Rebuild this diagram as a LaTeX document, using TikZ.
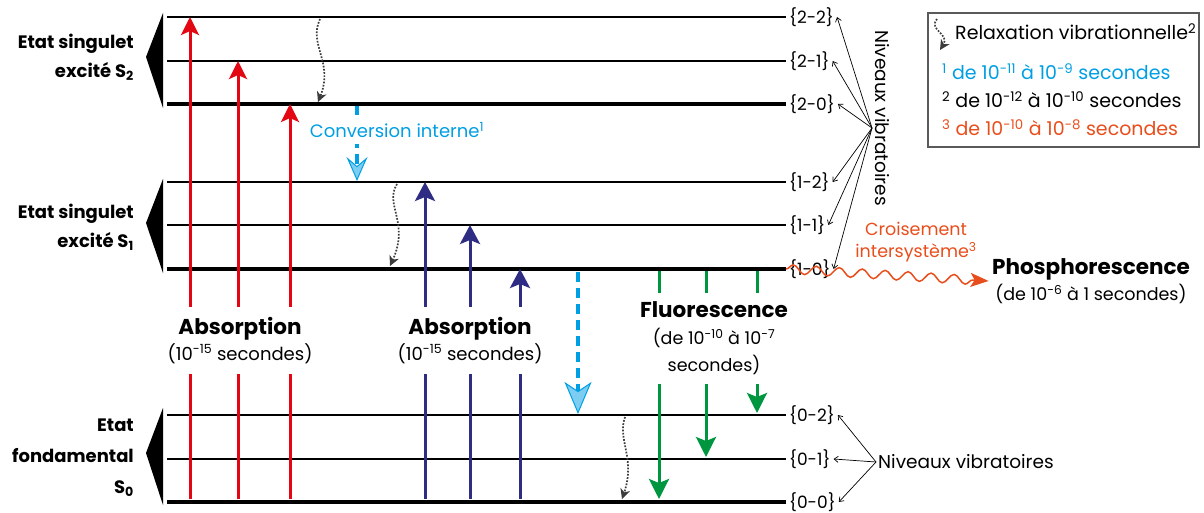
\documentclass[tikz,border=0pt]{standalone}
\usepackage{fontspec}
\setmainfont{Poppins}
\usetikzlibrary{positioning, arrows.meta, decorations.pathmorphing}

\definecolor{absred}{RGB}{227,6,19}
\definecolor{absblue}{RGB}{46,45,131}
\definecolor{fluogreen}{RGB}{0,150,64}
\definecolor{convcyan}{RGB}{0,159,227}
\definecolor{convlight}{RGB}{125,205,242}
\definecolor{iscorange}{RGB}{232,78,27}
\definecolor{relaxgray}{RGB}{60,60,60}
\definecolor{boxgray}{RGB}{90,90,90}

\makeatletter
\newcommand{\expo}[1]{\ensuremath{^{\mbox{\fontsize\sf@size\z@\selectfont #1}}}}
\newcommand{\indice}[1]{\ensuremath{_{\mbox{\fontsize\sf@size\z@\selectfont #1}}}}
\makeatother
\newcommand{\titlefont}{\fontsize{21.5}{26}\selectfont\bfseries}

\begin{document}
\begin{tikzpicture}[x=1pt, y=-1pt,
  lvlline/.style={black, line width=#1},
  lvllabel/.style={anchor=west, inner sep=3pt, font=\fontsize{17}{19}\selectfont},
  statelabel/.style={anchor=east, align=right, inner sep=0pt,
    font=\fontsize{18}{29}\selectfont\bfseries},
  gapbox/.style={fill=white, align=center, inner sep=2pt,
    font=\fontsize{18}{22}\selectfont},
  legendtext/.style={anchor=west, inner sep=0pt, font=\fontsize{19}{21}\selectfont},
  redup/.style={draw=absred, line width=3pt,
    -{Stealth[length=18pt, width=18pt, inset=4pt]}},
  blueup/.style={draw=absblue, line width=3pt,
    -{Stealth[length=19pt, width=20pt, inset=4pt]}},
  greendown/.style={draw=fluogreen, line width=3pt,
    -{Stealth[length=20pt, width=20pt, inset=4pt]}},
  cyandash/.style 2 args={draw=convcyan, line width=4pt, dash pattern=on 10pt off 6pt,
    -{Stealth[length=#1, width=#2, inset=9pt, fill=convlight, line width=1pt]}},
  relax/.style={draw=relaxgray, line width=1.7pt, dash pattern=on 1.7pt off 1.5pt,
    -{Stealth[length=10pt, width=10pt, inset=3pt]}},
  annot/.style={black, line width=0.7pt, -{Straight Barb[length=4pt, width=6pt]}},
  iscwave/.style={draw=iscorange, line width=1.5pt, decorate,
    decoration={snake, amplitude=4.5pt, segment length=23pt, post length=16pt},
    -{Stealth[length=18pt, width=14pt, inset=4pt]}},
]
\useasboundingbox (0,0) rectangle (1204,513);

%% ── Vibrational levels ───────────────────────────────────────────────────────
\foreach \n/\lbl/\y/\w in {22/2-2/17/2, 21/2-1/61/2, 20/2-0/104/4.5,
                           12/1-2/182/2, 11/1-1/225/2, 10/1-0/269/4.5,
                           02/0-2/415/2, 01/0-1/459/2, 00/0-0/502/4.5}{
  \coordinate (e\n) at (167,\y);
  \node[lvllabel] (v\n) at (786,\y) {\{\lbl\}};
  \draw[lvlline=\w pt] (e\n) -- (v\n.west);
}

%% ── Electronic states ────────────────────────────────────────────────────────
\foreach \yt/\ym/\yb in {13/57/108, 179/223/273, 408/453/505}
  \fill (163,\yt) -- (163,\yb) -- (146,\ym) -- cycle;

\node[statelabel] (st2) at (134,57.5) {Etat singulet\\excité S\indice{2}};
\node[statelabel] (st1) at (134,227.5) {Etat singulet\\excité S\indice{1}};
\node[statelabel, font=\fontsize{18}{31}\selectfont\bfseries] (st0) at (134,457.5)
  {Etat\\fondamental\\S\indice{0}};

%% ── Absorption (red: S0 -> S2, blue: S0 -> S1) ───────────────────────────────
\foreach \x/\yt [count=\i] in {190/17, 238/61, 290/104}{
  \coordinate (ra\i) at (\x,499);
  \coordinate (rt\i) at (\x,\yt);
  \draw[redup] (ra\i) -- (rt\i);
}
\foreach \x/\yt [count=\i] in {425/182, 470/225, 520/269}{
  \coordinate (ba\i) at (\x,499);
  \coordinate (bt\i) at (\x,\yt);
  \draw[blueup] (ba\i) -- (bt\i);
}

%% ── Fluorescence (S1 -> S0) ──────────────────────────────────────────────────
\foreach \x/\yt [count=\i] in {659/499, 706/457, 757/413}{
  \coordinate (ga\i) at (\x,271);
  \coordinate (gt\i) at (\x,\yt);
  \draw[greendown] (ga\i) -- (gt\i);
}

%% ── Internal conversion ──────────────────────────────────────────────────────
\coordinate (ca1) at (357,106);
\coordinate (ct1) at (357,181);
\draw[cyandash={24pt}{21pt}] (ca1) -- (ct1);
\coordinate (ca2) at (578,272);
\coordinate (ct2) at (578,414);
\draw[cyandash={32pt}{27pt}] (ca2) -- (ct2);

%% ── Vibrational relaxation ───────────────────────────────────────────────────
\coordinate (rx1a) at (320,19);  \coordinate (rx1b) at (318,102);
\draw[relax] (rx1a) .. controls (308,45) and (334,62) .. (rx1b);
\coordinate (rx2a) at (397,184); \coordinate (rx2b) at (390,266);
\draw[relax] (rx2a) .. controls (384,205) and (410,222) .. (rx2b);
\coordinate (rx3a) at (625,417); \coordinate (rx3b) at (622,499);
\draw[relax] (rx3a) .. controls (617,440) and (636,458) .. (rx3b);

%% ── Labels over the arrows ───────────────────────────────────────────────────
\node[gapbox, minimum width=150pt, minimum height=67pt] (abs1) at (240,340.5)
  {{\titlefont Absorption}\\[2pt](10\expo{-15} secondes)};
\node[gapbox, minimum width=150pt, minimum height=67pt] (abs2) at (470,340.5)
  {{\titlefont Absorption}\\[2pt](10\expo{-15} secondes)};
\node[gapbox, minimum width=150pt, minimum height=91pt,
  font=\fontsize{17.5}{27}\selectfont] (fluo) at (714,338.5)
  {{\titlefont Fluorescence}\\(de 10\expo{-10} à 10\expo{-7}\\secondes)};
\node[gapbox, text=convcyan, minimum height=29pt] (conv) at (397,130)
  {Conversion interne\expo{1}};

%% ── Intersystem crossing ─────────────────────────────────────────────────────
\node[align=center, font=\fontsize{17.5}{22}\selectfont] (phos) at (1091,281)
  {{\titlefont Phosphorescence}\\[3pt](de 10\expo{-6} à 1 secondes)};
\node[align=center, text=iscorange, font=\fontsize{17.5}{22}\selectfont] (isc)
  at (916,242) {Croisement\\intersystème\expo{3}};
\draw[iscwave] (v10.west) -- (phos.west);

%% ── Vibrational level callouts ───────────────────────────────────────────────
\node[rotate=-90, font=\fontsize{18.5}{20}\selectfont] (nivhaut) at (882,118)
  {Niveaux vibratoires};
\coordinate (hubup) at (872,128);
\foreach \n in {22,21,20,12,11,10}
  \draw[annot] (hubup) -- (v\n.east);
\node[anchor=west, inner sep=2pt, font=\fontsize{18.5}{20}\selectfont] (nivbas)
  at (876,462) {Niveaux vibratoires};
\foreach \n in {02,01,00}
  \draw[annot] (nivbas.west) -- (v\n.east);

%% ── Legend ───────────────────────────────────────────────────────────────────
\node[draw=boxgray, line width=1.2pt, minimum width=271pt, minimum height=134pt,
  inner sep=0pt] (legend) at (1063.5,80) {};
\coordinate (lgia) at (937,19); \coordinate (lgib) at (940,50);
\draw[relax] (lgia) .. controls (928,30) and (950,34) .. (lgib);
\node[legendtext] (lg0) at (955,32) {Relaxation vibrationnelle\expo{2}};
\node[legendtext, text=convcyan] (lg1) at (942,72)
  {\expo{1} de 10\expo{-11} à 10\expo{-9} secondes};
\node[legendtext] (lg2) at (942,100)
  {\expo{2} de 10\expo{-12} à 10\expo{-10} secondes};
\node[legendtext, text=iscorange] (lg3) at (942,128)
  {\expo{3} de 10\expo{-10} à 10\expo{-8} secondes};

\end{tikzpicture}
\end{document}
